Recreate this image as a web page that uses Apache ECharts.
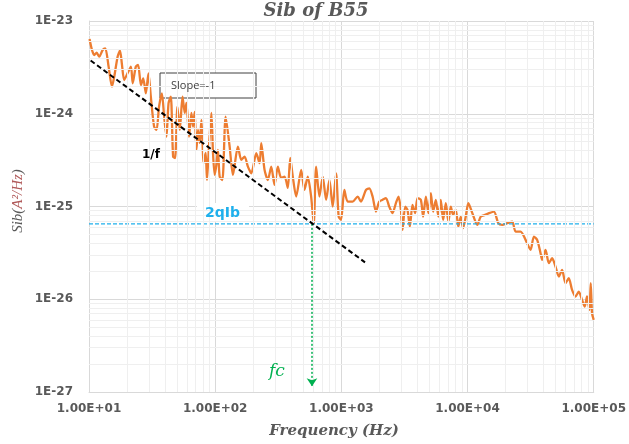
<!DOCTYPE html>
<html>
<head>
<meta charset="utf-8">
<script src="https://cdn.jsdelivr.net/npm/echarts@6/dist/echarts.min.js"></script>
<style>
html,body{margin:0;padding:0;background:#fff;}
#chart{width:629px;height:444px;}
</style>
</head>
<body>
<div id="chart"></div>
<script>
// ---- data ----
const freq = [10.1,10.56,11.0,11.5,12.06,12.83,13.46,14.3,15.2,15.85,
16.86,17.6,18.2,19.0,20.2,21.5,22.2,23.5,24.5,25.8,
26.9,28.2,29.6,30.9,32.8,34.3,35.9,37.8,39.4,41.1,
42.7,44.5,46.4,48.1,50.2,52.4,55.1,57.4,59.2,62.1,
64.8,66.8,68.8,71.0,73.1,75.4,77.8,81.1,84.1,86.1,
89.3,93.3,96.1,99.1,102.2,105.2,108.5,114,121,130.2,
138.3,151.4,161.1,171.1,181.7,193.3,211.7,224.8,231.9,246.2,
261.5,278.2,295.4,313.6,333.7,354.3,376.3,393.3,412.1,438.5,
480.3,510,541.6,576,604,631,670,712,757,804,
854,908,952,994,1056,1121,1228,1346,1431,1568,
1665,1768,1881,1997,2121,2256,2395,2544,2706,2838,
2964,3052,3206,3343,3492,3661,3846,4011,4266,4448,
4673,4898,5118,5337,5606,5878,6139,6403,6726,7050,
7366,7682,8067,8459,8837,9213,9678,10150,10910,11950,
12720,13750,14790,16200,17520,18850,20640,22610,24040,26340,
28850,31600,33560,35630,37900,39030,41510,44100,46820,49800,
52890,56160,59750,63430,67360,71670,76110,80820,84910,88510,
92470,94690,96960,100000];

const sib = [6.4e-24,4.87e-24,4.30e-24,4.55e-24,4.12e-24,4.87e-24,5.08e-24,3.22e-24,1.96e-24,2.51e-24,
4.12e-24,4.79e-24,3.50e-24,2.31e-24,2.73e-24,3.22e-24,2.13e-24,3.22e-24,3.36e-24,2.04e-24,
2.41e-24,1.66e-24,2.73e-24,1.53e-24,7.26e-25,6.69e-25,1.19e-24,1.66e-24,9.31e-25,5.66e-25,
1.30e-24,1.53e-24,3.45e-25,3.32e-25,1.19e-24,6.69e-25,1.53e-24,1.02e-24,1.31e-24,5.66e-25,
1.02e-24,7.26e-25,1.05e-24,4.07e-25,6.69e-25,4.85e-25,8.57e-25,2.95e-25,3.78e-25,1.93e-25,
4.42e-25,1.02e-24,3.78e-25,2.19e-25,2.81e-25,4.07e-25,2.10e-25,1.93e-25,9.31e-25,4.42e-25,
2.19e-25,4.42e-25,3.18e-25,3.45e-25,2.69e-25,2.28e-25,3.75e-25,2.93e-25,4.81e-25,2.48e-25,
1.93e-25,2.69e-25,1.71e-25,2.69e-25,2.03e-25,2.10e-25,1.59e-25,3.34e-25,2.10e-25,1.28e-25,
2.48e-25,1.51e-25,2.10e-25,1.28e-25,6.49e-26,2.69e-25,1.28e-25,2.10e-25,1.18e-25,1.93e-25,
9.97e-26,2.28e-25,7.78e-26,7.17e-26,1.51e-25,1.13e-25,1.13e-25,1.28e-25,1.13e-25,1.51e-25,
1.57e-25,1.28e-25,8.81e-26,1.13e-25,1.18e-25,1.23e-25,9.97e-26,8.47e-26,1.09e-25,1.28e-25,
9.19e-26,5.59e-26,9.97e-26,9.19e-26,6.07e-26,1.04e-25,8.47e-26,1.23e-25,1.18e-25,7.78e-26,
1.28e-25,8.47e-26,1.39e-25,8.81e-26,1.18e-25,7.78e-26,1.18e-25,7.17e-26,1.09e-25,6.86e-26,
9.97e-26,8.12e-26,9.19e-26,6.07e-26,7.78e-26,5.84e-26,7.78e-26,1.09e-25,8.47e-26,6.33e-26,
7.78e-26,8.12e-26,8.47e-26,8.81e-26,6.61e-26,6.33e-26,6.61e-26,6.86e-26,5.36e-26,5.36e-26,
4.37e-26,3.41e-26,4.74e-26,4.37e-26,3.14e-26,2.66e-26,3.41e-26,2.45e-26,2.77e-26,2.25e-26,
1.76e-26,2.07e-26,1.49e-26,1.69e-26,1.26e-26,1.07e-26,1.21e-26,9.85e-27,8.34e-27,1.07e-26,
7.69e-27,1.49e-26,7.08e-27,6.0e-27];

const slopeFreq = [10.3, 1540];          // 1/f guide line ends
const slopeSib = [3.75e-24, 2.5e-26];
const shotFreq = [10, 100000];           // 2qIb level line
const shotSib = [6.5e-26, 6.5e-26];
const fcFreq = 585;                      // corner frequency
const fcArrowSib = [6.5e-26, 1.15e-27];
const xTickLabels = ['1.00E+01','1.00E+02','1.00E+03','1.00E+04','1.00E+05'];
const yTickLabels = ['1E-27','1E-26','1E-25','1E-24','1E-23'];

// ---- build ----
const YS = 1e27; // plot in units of 1e-27 A^2/Hz, labels restore the exponent
const pts = (xs, ys) => xs.map((x, i) => [x, ys[i] * YS]);

const minorX = [], minorY = [];
for (let d = 1; d < 5; d++) for (let k = 2; k <= 9; k++) minorX.push({xAxis: k * Math.pow(10, d)});
for (let d = 0; d < 4; d++) for (let k = 2; k <= 9; k++) minorY.push({yAxis: k * Math.pow(10, d)});

const chart = echarts.init(document.getElementById('chart'));
const grey = '#595959';
chart.setOption({
  animation: false,
  backgroundColor: '#fff',
  grid: {left: 89, right: 34, top: 21, bottom: 52},
  xAxis: {
    type: 'log', min: 10, max: 100000, logBase: 10,
    axisLine: {lineStyle: {color: '#d9d9d9'}},
    axisTick: {show: false},
    splitLine: {show: true, lineStyle: {color: '#d9d9d9', width: 1}},
    axisLabel: {
      color: grey, fontFamily: 'DejaVu Sans', fontWeight: 'bold', fontSize: 12, margin: 11,
      formatter: v => xTickLabels[Math.round(Math.log10(v)) - 1]
    }
  },
  yAxis: {
    type: 'log', min: 1, max: 10000, logBase: 10,
    axisLine: {show: true, lineStyle: {color: '#d9d9d9'}},
    axisTick: {show: false},
    splitLine: {show: true, lineStyle: {color: '#d9d9d9', width: 1}},
    axisLabel: {
      color: grey, fontFamily: 'DejaVu Sans', fontWeight: 'bold', fontSize: 12, margin: 16,
      formatter: v => yTickLabels[Math.round(Math.log10(v))]
    }
  },
  series: [
    {
      type: 'line', z: 1, silent: true, showSymbol: false,
      data: [[10, 1]], lineStyle: {opacity: 0},
      markLine: {
        silent: true, symbol: 'none', label: {show: false},
        lineStyle: {color: '#efefef', width: 1, type: 'solid'},
        data: minorX.concat(minorY)
      }
    },
    {
      name: 'Sib', type: 'line', z: 3, showSymbol: false, smooth: 0.25,
      data: pts(freq, sib),
      lineStyle: {color: '#ED7D31', width: 2.3}
    },
    {
      name: '2qIb', type: 'line', z: 4, showSymbol: false,
      data: pts(shotFreq, shotSib),
      lineStyle: {color: '#1FB0EC', width: 1.3, type: [4, 2]}
    },
    {
      name: '1/f', type: 'line', z: 5, showSymbol: false,
      data: pts(slopeFreq, slopeSib),
      lineStyle: {color: '#000', width: 2, type: [5, 3]}
    },
    {
      type: 'line', z: 5, showSymbol: false, data: [],
      markLine: {
        silent: true, symbol: ['none', 'arrow'], symbolSize: 8, label: {show: false},
        lineStyle: {color: '#00B050', width: 1.5, type: [2, 2]},
        data: [[{coord: [fcFreq, fcArrowSib[0] * YS]}, {coord: [fcFreq, fcArrowSib[1] * YS]}]]
      }
    }
  ],
  graphic: [
    {type: 'text', x: 316, y: 11, z: 100, style: {text: 'Sib of B55', font: 'italic bold 18px "DejaVu Serif"', fill: grey, align: 'center', verticalAlign: 'middle'}},
    {type: 'text', x: 334, y: 431, z: 100, style: {text: 'Frequency (Hz)', font: 'italic bold 15px "DejaVu Serif"', fill: grey, align: 'center', verticalAlign: 'middle'}},
    {type: 'text', x: 18, y: 201, rotation: Math.PI / 2, z: 100, style: {
      text: '{a|Sib(}{b|A²/Hz}{a|)}', align: 'center', verticalAlign: 'middle',
      rich: {a: {font: 'italic 15px "Liberation Serif"', fill: grey}, b: {font: 'italic 15px "Liberation Serif"', fill: '#b05a5a'}}
    }},
    {type: 'rect', z: 2, shape: {x: 160, y: 73, width: 96, height: 25}, style: {fill: '#fff', stroke: '#404040', lineWidth: 1}},
    {type: 'text', x: 171, y: 86, z: 100, style: {text: 'Slope=-1', font: '11px "Open Sans"', fill: '#404040', align: 'left', verticalAlign: 'middle'}},
    {type: 'text', x: 142, y: 155, z: 100, style: {text: '1/f', font: 'bold 12px "DejaVu Sans"', fill: '#000', align: 'left', verticalAlign: 'middle'}},
    {type: 'rect', z: 2, shape: {x: 197, y: 203, width: 52, height: 19}, style: {fill: '#fff'}},
    {type: 'text', x: 205, y: 213, z: 100, style: {text: '2qIb', font: 'bold 14px "DejaVu Sans"', fill: '#1FB0EC', align: 'left', verticalAlign: 'middle'}},
    {type: 'rect', z: 2, shape: {x: 263, y: 360, width: 30, height: 24}, style: {fill: '#fff'}},
    {type: 'text', x: 269, y: 372, z: 100, style: {text: 'fc', font: 'italic 17px "DejaVu Serif"', fill: '#00B050', align: 'left', verticalAlign: 'middle'}}
  ]
});
</script>
</body>
</html>
